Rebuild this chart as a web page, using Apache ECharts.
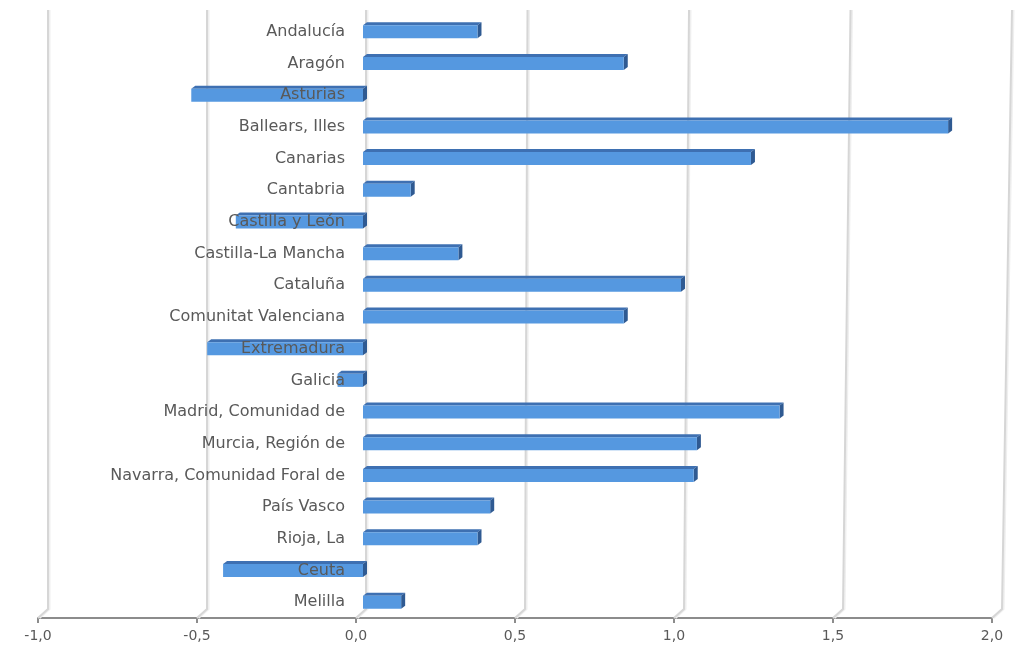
<!DOCTYPE html>
<html>
<head>
<meta charset="utf-8">
<script src="https://cdn.jsdelivr.net/npm/echarts@6/dist/echarts.min.js"></script>
<style>
  html, body { margin: 0; padding: 0; background: #ffffff; }
  #chart { width: 1034px; height: 651px; }
</style>
</head>
<body>
<div id="chart"></div>
<script>
// Regional variation by autonomous community
const regions = [
  'Andalucía', 'Aragón', 'Asturias', 'Ballears, Illes', 'Canarias', 'Cantabria',
  'Castilla y León', 'Castilla-La Mancha', 'Cataluña', 'Comunitat Valenciana',
  'Extremadura', 'Galicia', 'Madrid, Comunidad de', 'Murcia, Región de',
  'Navarra, Comunidad Foral de', 'País Vasco', 'Rioja, La', 'Ceuta', 'Melilla'
];
const values = [
  0.36, 0.82, -0.54, 1.84, 1.22, 0.15,
  -0.40, 0.30, 1.00, 0.82,
  -0.49, -0.08, 1.31, 1.05,
  1.04, 0.40, 0.36, -0.44, 0.12
];
const tickValues = [-1.0, -0.5, 0.0, 0.5, 1.0, 1.5, 2.0];

const FONT = '"DejaVu Sans", sans-serif';
const TEXT = '#595959';

// 3D box geometry for each bar
const FACE_H = 13, DEPTH_X = 4, DEPTH_Y = 3, SHIFT_X = 7;

function renderBar(params, api) {
  const v = api.value(0);
  const cat = api.value(1);
  const p0 = api.coord([0, cat]);
  const p1 = api.coord([v, cat]);
  const xL = Math.min(p0[0], p1[0]) + SHIFT_X;
  const xR = Math.max(p0[0], p1[0]) + SHIFT_X;
  const yT = p0[1] - FACE_H / 2;
  const yB = p0[1] + FACE_H / 2;
  return {
    type: 'group',
    children: [
      {
        type: 'polygon',
        shape: { points: [[xL, yT], [xL + DEPTH_X, yT - DEPTH_Y], [xR + DEPTH_X, yT - DEPTH_Y], [xR, yT]] },
        style: { fill: '#3e70b2' }
      },
      {
        type: 'polygon',
        shape: { points: [[xR, yT], [xR + DEPTH_X, yT - DEPTH_Y], [xR + DEPTH_X, yB - DEPTH_Y], [xR, yB]] },
        style: { fill: '#2f5a92' }
      },
      {
        type: 'rect',
        shape: { x: xL, y: yT, width: xR - xL, height: FACE_H },
        style: { fill: '#5598e0' }
      }
    ]
  };
}

// Back-wall gridlines rising from the floor at each tick
function renderGrid(params, api) {
  const t = api.value(0);
  const cs = params.coordSys;
  const x = api.coord([t, 0])[0];
  const yAxis = cs.y + cs.height;
  const slant = Math.max(0, t) * 5;
  const pts = [[x, yAxis], [x + 10, yAxis - 9], [x + 10 + slant, 10]];
  return {
    type: 'group',
    children: [
      { type: 'polyline', shape: { points: pts.map(p => [p[0] + 1.5, p[1]]) }, style: { stroke: '#efefef', lineWidth: 2, fill: null } },
      { type: 'polyline', shape: { points: pts }, style: { stroke: '#d6d6d6', lineWidth: 2, fill: null } }
    ]
  };
}

const GRID_LEFT = 38, GRID_RIGHT = 42;
const plotWidth = 1034 - GRID_LEFT - GRID_RIGHT;
// category labels sit against the zero line of the value axis
const zeroOffset = plotWidth / 3;

const chart = echarts.init(document.getElementById('chart'), null, { renderer: 'canvas' });
chart.setOption({
  backgroundColor: '#ffffff',
  animation: false,
  grid: { left: GRID_LEFT, right: GRID_RIGHT, top: 16, bottom: 33, containLabel: false, outerBoundsMode: 'none' },
  xAxis: {
    type: 'value',
    min: -1,
    max: 2,
    interval: 0.5,
    splitLine: { show: false },
    axisLine: { show: true, lineStyle: { color: '#8c8c8c', width: 2 } },
    axisTick: { show: true, length: 5, lineStyle: { color: '#8c8c8c', width: 2 } },
    axisLabel: {
      color: TEXT, fontFamily: FONT, fontSize: 14, margin: 11,
      formatter: v => v.toFixed(1).replace('.', ',')
    }
  },
  yAxis: {
    type: 'category',
    data: regions,
    inverse: true,
    z: 10,
    offset: -zeroOffset,
    axisLine: { show: false },
    axisTick: { show: false },
    splitLine: { show: false },
    axisLabel: { color: TEXT, fontFamily: FONT, fontSize: 16, margin: 11 }
  },
  series: [
    {
      type: 'custom',
      renderItem: renderGrid,
      clip: false,
      z: 1,
      silent: true,
      data: tickValues.map(t => [t])
    },
    {
      type: 'custom',
      renderItem: renderBar,
      clip: false,
      z: 3,
      data: values.map((v, i) => [v, i])
    }
  ]
});
</script>
</body>
</html>
